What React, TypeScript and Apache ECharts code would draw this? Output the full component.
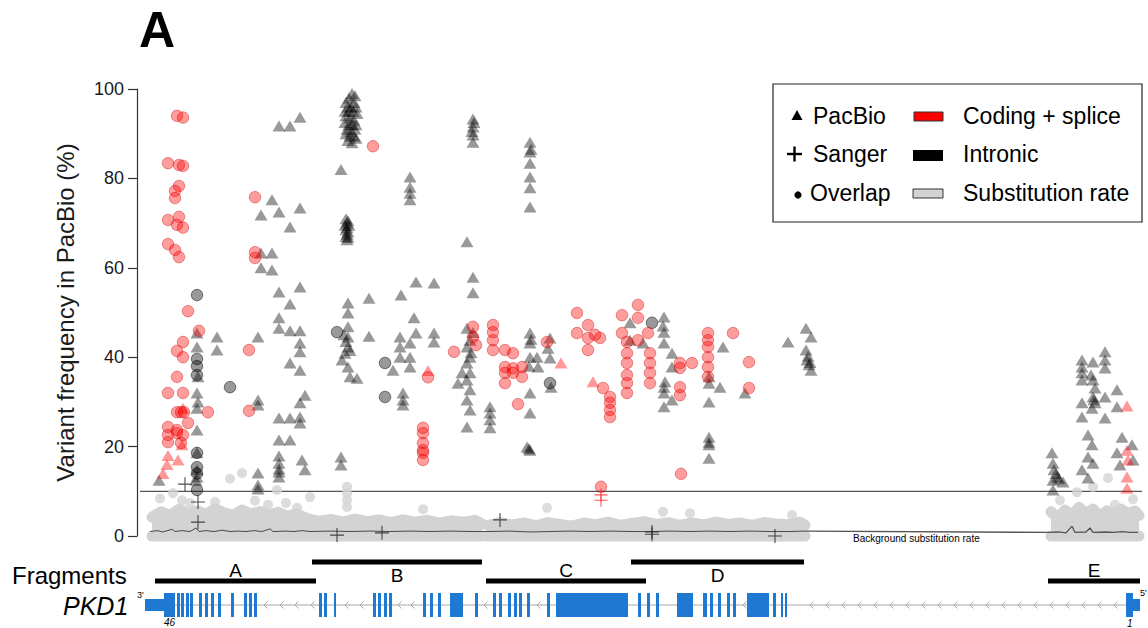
import React, { useEffect, useRef } from 'react';
import * as echarts from 'echarts';

const FONT = '"Liberation Sans", Arial, Helvetica, sans-serif';

// ---------- data (x = genomic position in plot units, y = variant frequency %) ----------
const redCircles: number[][] = [
  [177, 94], [183, 93.6], [168, 83.4], [179, 83], [183, 82.8], [179, 78.3], [175, 77.2], [175, 75.6],
  [168, 70.7], [179, 71.4], [177, 69.6], [183, 69], [168, 65.3], [175, 64], [179, 62.4], [188, 50.3],
  [199, 45.9], [183, 43.4], [177, 41.4], [183, 40], [177, 35.6], [168, 32], [183, 32], [177, 27.7],
  [181, 27.7], [184, 27.7], [208, 27.7], [188, 25.3], [168, 24.4], [177, 23.7], [168, 22.6], [177, 23],
  [183, 22.6], [168, 21], [181, 20.8], [249, 41.6], [249, 28], [255, 75.8], [255, 63.5], [255, 62.2],
  [373, 87.2], [428, 35.5], [423, 24.2], [423, 23], [423, 20.8], [423, 19.2], [423, 18.6], [423, 17],
  [454, 41.2], [473, 46.8], [473, 44.5], [476, 42.7],
  [493, 47.2], [493, 45.6], [493, 43.8], [493, 41.6], [505, 41.6], [513, 40.9], [505, 37.8], [513, 37.5],
  [522, 37.8], [505, 36.5], [513, 36.5], [522, 35.6], [505, 34.2], [518, 29.5], [547, 43.4],
  [577, 49.9], [577, 45.4], [588, 47.2], [588, 44.3], [588, 41.6], [595, 45], [600, 44.3], [603, 33.1],
  [610, 31.1], [610, 29.8], [610, 28.2], [610, 26.6], [601, 11], [622, 49.4], [622, 45.4], [627, 43.4],
  [627, 40.9], [627, 38.7], [627, 36], [627, 34.2], [627, 32], [638, 51.7], [638, 48.8], [648, 45.4],
  [638, 43.8], [650, 40.9], [650, 38.7], [650, 36.5], [650, 34.2],
  [680, 38.7], [680, 37.6], [680, 33.3], [680, 31.5], [692, 38.7], [681, 13.9], [708, 45.4], [708, 43.8],
  [708, 42.3], [708, 40], [708, 37.8], [708, 35.6], [733, 45.4], [749, 38.9], [749, 33.1],
];

const redTriangles: number[][] = [
  [163, 14], [167, 16], [168, 18], [178, 17], [182, 20.4], [183, 28.6], [428, 37], [561, 38.7], [593, 34.5],
  [1127, 29.1], [1127, 19.2], [1128, 17], [1127, 13.2], [1127, 10.7],
];

const grayTriangles: number[][] = [
  // fragment A
  [159, 12.5], [197, 45.4], [197, 42.3], [198, 35.6], [197, 32], [198, 30], [197, 28.6], [197, 23.7],
  [197, 18.6], [197, 14.8], [197, 13.2], [196, 12.5], [217, 44.5], [217, 41.6],
  [272, 75.2], [261, 71.8], [279, 72.5], [290, 69.1], [300, 73.4], [279, 91.7], [290, 91.7], [300, 93.7],
  [261, 63.3], [272, 63.3], [261, 60], [272, 59.5], [279, 54.6], [290, 51.9], [300, 55.7], [279, 48.8],
  [279, 46.5], [290, 45.9], [300, 45.9], [300, 43.2], [300, 41.2], [290, 38.7], [300, 37.1], [258, 44.5],
  [305, 31.5], [300, 29.8], [258, 30.4], [258, 29.3], [279, 26.4], [290, 26.4], [300, 26.6], [300, 25.3],
  [279, 21.5], [290, 21.5], [279, 17.9], [279, 16.3], [279, 15], [279, 14.3], [279, 13.2], [302, 17],
  [305, 14.8], [258, 14.1], [258, 11.4], [258, 10.5],
  // fragment B
  [346, 97], [349, 98], [352, 99], [355, 98.5], [354, 97], [348, 96], [351, 96], [356, 96], [345, 95],
  [349, 95], [353, 95], [357, 94.5], [346, 94], [350, 93.5], [354, 93], [345, 92.5], [349, 92], [352, 92],
  [356, 92], [347, 91], [351, 90.5], [355, 91], [346, 90], [350, 89.5], [354, 89.5], [348, 88.5], [352, 88],
  [356, 89], [341, 82],
  [346, 71], [348, 70.5], [347, 70], [345, 69.5], [349, 69.5], [347, 69], [346, 68.5], [348, 68],
  [347, 67.5], [346, 67], [348, 66.8], [347, 66.3],
  [410, 80.3], [410, 78], [410, 76.7], [410, 75.2],
  [473, 93.3], [473, 91.5], [473, 89.7], [473, 88.1], [474, 92.5], [472, 90.5],
  [467, 65.8], [473, 57.9], [473, 54.4], [416, 56.8], [434, 56.6], [401, 53.9], [369, 53.2],
  [348, 52.1], [348, 49.9], [348, 46.8], [348, 44.5], [348, 42.3], [345, 40.9], [342, 39.4], [348, 37.8],
  [350, 35.6], [357, 35.3], [346, 43.5], [350, 41.5], [344, 45],
  [369, 44.7], [414, 48.8], [416, 45.4], [400, 44.5], [400, 42.3], [400, 40], [410, 43.2], [410, 40],
  [410, 37.8], [393, 37.1], [403, 32], [403, 30.4], [403, 29.3], [434, 45.4], [434, 43.4],
  [341, 17.7], [341, 15.9],
  [467, 46.5], [470, 43.8], [467, 42.3], [470, 40], [467, 38.7], [470, 36.5], [467, 34.9], [470, 32.7],
  [467, 30.4], [470, 28.2], [467, 24.4], [462, 36.5], [458, 34.2], [473, 45.5], [471, 41],
  // fragment C
  [490, 28.9], [490, 27.5], [490, 26], [490, 24.2],
  [530, 88.1], [530, 85.9], [530, 83.4], [530, 80.3], [530, 77.9], [530, 73.6], [531, 86.5],
  [530, 45.4], [530, 43.2], [530, 40], [530, 32], [530, 27.5], [527, 19.9], [530, 19.2], [529, 19.5],
  [531, 44], [529, 38], [537, 40], [538, 37.8], [550, 44.3], [548, 42], [550, 39.8], [551, 33.3],
  [630, 47.7], [630, 43.8], [643, 43.2],
  [664, 49], [664, 45.6], [664, 43.2], [664, 33.3], [664, 32], [664, 28.9], [672, 40.9], [672, 37.8],
  [672, 30.4], [663, 47], [665, 34.5],
  // fragment D
  [709, 35.6], [709, 34.2], [709, 30], [709, 22.1], [709, 20.4], [709, 17.4], [709, 21], [720, 33.3],
  [723, 42.3], [745, 32], [788, 43.4], [806, 46.5], [811, 44.5], [806, 41.6], [807, 39.4], [809, 38.3],
  [811, 37.1], [808, 40.2], [810, 38.8],
  // fragment E
  [1052, 18.6], [1053, 16.3], [1054, 14.8], [1057, 13.2], [1053, 12.5], [1063, 12.1], [1053, 10.3],
  [1056, 14], [1059, 12.8],
  [1082, 39.4], [1082, 37.8], [1082, 36.5], [1082, 34.9], [1093, 38.9], [1105, 41.2], [1105, 39.4],
  [1105, 37.6], [1093, 34.9], [1095, 33.1], [1093, 31.1], [1095, 29.8], [1092, 28.6], [1082, 29.8],
  [1082, 26.6], [1105, 31.1], [1117, 32.7], [1117, 28.9], [1105, 26.4], [1088, 22.6], [1092, 20.4],
  [1088, 17.7], [1093, 16.3], [1082, 14.8], [1088, 13], [1122, 22.1], [1132, 20.4], [1117, 18.6],
  [1120, 15.9], [1133, 17], [1094, 30.5], [1091, 36],
];

const darkCircles: number[][] = [
  [197, 53.9], [197, 39.6], [197, 38], [197, 36], [197, 18.6], [197, 15.4], [197, 14], [197, 10.3],
  [230, 33.3], [337, 45.6], [385, 38.7], [385, 31.1], [550, 34.2], [652, 47.7],
];

const sangerIntronic: number[][] = [
  [185, 11.6], [198, 7.6], [198, 3.1], [337, 0.2], [382, 0.7], [500, 3.6], [652, 0.9], [652, 0.4], [775, 0],
];

const sangerCoding: number[][] = [[601, 9.2], [601, 8]];

const substitutionOutliers: number[][] = [
  [173, 9.6], [182, 8], [160, 8.4], [190, 7.4], [215, 7.6], [230, 12.8], [242, 14.1], [255, 7.9],
  [268, 7.0], [277, 10.3], [286, 7.4], [297, 6.3], [310, 8.7], [347, 11], [347, 9.5], [347, 8],
  [347, 6.5], [423, 6], [547, 6.3], [663, 5.4], [690, 5.1], [792, 4.7],
  [1077, 9.8], [1093, 11], [1108, 13], [1060, 8], [1115, 7], [1133, 8.2],
];

// substitution-rate band, upper envelope per segment
const bandAB: number[][] = [
  [152, 4.2], [161, 5.4], [170, 4.6], [179, 6.0], [188, 5.0], [197, 5.6], [206, 4.8], [215, 6.1],
  [224, 5.2], [233, 4.6], [242, 5.8], [251, 4.9], [260, 5.5], [269, 4.6], [278, 5.3], [287, 4.4],
  [296, 5.0], [307, 3.9], [319, 3.3], [331, 3.7], [343, 3.1], [355, 3.8], [367, 3.2], [379, 3.6],
  [391, 3.0], [403, 3.6], [415, 3.1], [427, 3.5], [439, 2.9], [451, 3.4], [463, 3.1], [475, 3.5], [482, 2.7],
];
const bandCD: number[][] = [
  [488, 2.4], [500, 3.0], [512, 2.5], [524, 2.9], [536, 2.3], [548, 3.0], [560, 2.6], [572, 2.2],
  [584, 2.9], [596, 2.5], [608, 3.1], [620, 2.4], [632, 2.8], [644, 3.2], [656, 2.6], [668, 3.0],
  [680, 2.4], [692, 2.9], [704, 2.5], [716, 3.1], [728, 2.6], [740, 2.9], [752, 2.4], [764, 3.0],
  [776, 2.7], [788, 2.5], [800, 3.1], [805, 2.4],
];
const bandE: number[][] = [
  [1051, 5.4], [1058, 4.0], [1065, 5.8], [1072, 4.6], [1079, 6.4], [1086, 5.0], [1093, 6.0],
  [1100, 4.4], [1107, 5.6], [1114, 4.6], [1121, 6.0], [1128, 5.0], [1135, 5.6], [1139, 4.6],
];

const backgroundRate: number[][] = [
  [150, 1.0], [158, 1.2], [162, 0.9], [166, 1.1], [172, 1.5], [175, 1.0], [182, 1.2], [190, 1.0],
  [196, 1.8], [199, 1.0], [206, 1.2], [214, 1.0], [222, 1.3], [230, 1.0], [238, 1.1], [246, 1.0],
  [254, 1.2], [262, 1.0], [270, 1.6], [273, 1.0], [286, 1.1], [294, 1.0], [302, 1.2], [310, 1.0],
  [330, 1.1], [350, 1.0], [370, 1.1], [390, 1.0], [410, 1.1], [430, 1.0], [450, 1.1], [470, 1.0],
  [490, 1.0], [510, 1.1], [530, 0.9], [550, 1.0], [570, 1.1], [590, 1.0], [610, 1.1], [630, 1.0],
  [650, 1.0], [670, 1.1], [690, 1.0], [710, 1.1], [730, 1.0], [750, 1.1], [770, 1.0], [790, 1.0],
  [805, 1.1], [1050, 0.8], [1058, 0.9], [1066, 0.7], [1072, 2.2], [1075, 0.8], [1086, 0.9],
  [1090, 1.8], [1093, 0.8], [1106, 0.9], [1114, 0.8], [1122, 1.0], [1130, 0.8], [1138, 0.8],
];
const bgSplit = 48; // index of the point at the end of fragment D

const thresholdLine: number[][] = [[140, 10], [1142, 10]];

// fragments and gene model (same genomic axis)
const fragmentNames = ['A', 'B', 'C', 'D', 'E'];
const fragmentStart = [155, 312, 486, 631, 1048];
const fragmentEnd = [316, 482, 646, 804, 1140];
const fragmentTier = [0, 1, 0, 1, 0]; // 1 = upper row

const geneSpan = [145, 1140];
const codingExons: number[][] = [
  [164, 175], [177, 180], [181, 184], [186, 189], [190, 193], [199, 202], [205, 208], [211, 214],
  [218, 221], [231, 234], [244, 247], [249, 252], [254, 257], [319, 322], [324, 327], [334, 336],
  [373, 376], [378, 381], [384, 387], [389, 392], [423, 426], [430, 433], [438, 441], [450, 463],
  [475, 478], [493, 496], [499, 502], [508, 511], [514, 517], [519, 522], [527, 530], [547, 550],
  [556, 628], [638, 641], [647, 650], [656, 659], [677, 693], [703, 707], [710, 713], [718, 721],
  [727, 730], [733, 736], [747, 769], [773, 776], [781, 783], [785, 787], [1126, 1133],
];
const utrRegions: number[][] = [[145, 164], [1133, 1140]];
const intronArrows = [
  264, 280, 295, 311, 345, 360, 398, 411, 484, 537, 743, 810, 826, 842, 858, 874, 890, 906, 922, 938,
  954, 970, 986, 1002, 1018, 1034, 1050, 1066, 1082, 1098, 1114,
];

const yMin = 0;
const yMax = 100;
const yStep = 20;

// ---------- chart ----------
const CROSS = 'path://M9.2,0h1.6v9.2h9.2v1.6h-9.2v9.2h-1.6v-9.2h-9.2v-1.6h9.2z';
const BAND = '#d3d3d3';

function bandSeries(seg: number[][]) {
  return [
    {
      type: 'line', xAxisIndex: 0, yAxisIndex: 0, data: seg, symbol: 'none', silent: true, clip: false, z: 1,
      lineStyle: { color: BAND, width: 11, cap: 'round', join: 'round' },
      areaStyle: { color: BAND, opacity: 1 },
    },
    {
      type: 'line', xAxisIndex: 0, yAxisIndex: 0, data: [[seg[0][0], 0], [seg[seg.length - 1][0], 0]],
      symbol: 'none', silent: true, clip: false, z: 1,
      lineStyle: { color: BAND, width: 11, cap: 'round' },
    },
  ];
}

function buildOption() {
  const TRACK = { upperBar: 14, lowerBar: 33, upperLabel: 27.5, lowerLabel: 22, gene: 57 };
  const text = (x: number, y: number, t: string, size: number, extra: any = {}) => ({
    type: 'text', x, y, z: 50,
    style: { text: t, fontSize: size, fontFamily: FONT, fill: '#000', verticalAlign: 'middle', ...extra },
  });

  return {
    animation: false,
    backgroundColor: '#fff',
    grid: [
      { left: 137, top: 89, width: 1011, height: 447 },
      { left: 137, top: 548, width: 1011, height: 80 },
    ],
    xAxis: [
      { type: 'value', gridIndex: 0, min: 137, max: 1148, show: false },
      { type: 'value', gridIndex: 1, min: 137, max: 1148, show: false },
    ],
    yAxis: [
      {
        type: 'value', gridIndex: 0, min: yMin, max: yMax, interval: yStep,
        name: 'Variant frequency in PacBio (%)', nameLocation: 'middle', nameGap: 60,
        nameTextStyle: { fontSize: 24, fontFamily: FONT, color: '#1a1a1a' },
        axisLine: { show: true, lineStyle: { color: '#333', width: 1.2 } },
        axisTick: { show: true, length: 9, lineStyle: { color: '#333', width: 1.2 } },
        axisLabel: { fontSize: 18, fontFamily: FONT, color: '#1a1a1a', margin: 13 },
        splitLine: { show: false },
      },
      { type: 'value', gridIndex: 1, min: 0, max: 80, inverse: true, show: false },
    ],
    graphic: [
      text(139, 30, 'A', 50, { fontWeight: 'bold' }),
      text(12, 575, 'Fragments', 24),
      text(63, 606, 'PKD1', 25, { fontStyle: 'italic' }),
      text(137, 595, "3'", 9),
      text(164, 622, '46', 10, { fontStyle: 'italic' }),
      text(1140, 593, "5'", 9),
      text(1127, 623, '1', 10, { fontStyle: 'italic' }),
      text(853, 538, 'Background substitution rate', 10),
      // legend
      { type: 'rect', z: 40, shape: { x: 773, y: 84, width: 369, height: 138 }, style: { fill: '#fff', stroke: '#222', lineWidth: 1.2 } },
      { type: 'polygon', z: 50, shape: { points: [[797, 110], [791.5, 120], [802.5, 120]] }, style: { fill: '#000' } },
      text(813, 116, 'PacBio', 23),
      { type: 'rect', z: 50, shape: { x: 914, y: 112, width: 29, height: 9 }, style: { fill: '#ff0000', stroke: '#333', lineWidth: 1 } },
      text(963, 116, 'Coding + splice', 23),
      { type: 'line', z: 50, shape: { x1: 787, y1: 154, x2: 802, y2: 154 }, style: { stroke: '#000', lineWidth: 2.4 } },
      { type: 'line', z: 50, shape: { x1: 794.5, y1: 146.5, x2: 794.5, y2: 161.5 }, style: { stroke: '#000', lineWidth: 2.4 } },
      text(813, 154, 'Sanger', 23),
      { type: 'rect', z: 50, shape: { x: 913, y: 150, width: 30, height: 11 }, style: { fill: '#000' } },
      text(963, 154, 'Intronic', 23),
      { type: 'circle', z: 50, shape: { cx: 798, cy: 195, r: 3.6 }, style: { fill: '#000' } },
      text(810, 193, 'Overlap', 23),
      { type: 'rect', z: 50, shape: { x: 913, y: 189, width: 30, height: 9 }, style: { fill: BAND, stroke: '#333', lineWidth: 1 } },
      text(963, 193, 'Substitution rate', 23),
    ],
    series: [
      ...bandSeries(bandAB),
      ...bandSeries(bandCD),
      ...bandSeries(bandE),
      {
        type: 'line', data: backgroundRate.slice(0, bgSplit + 1), symbol: 'none', silent: true, z: 2,
        lineStyle: { color: '#3a3a3a', width: 0.9 },
      },
      {
        type: 'line', data: backgroundRate.slice(bgSplit), symbol: 'none', silent: true, z: 2,
        lineStyle: { color: '#555', width: 1.3 },
      },
      {
        type: 'line', data: thresholdLine, symbol: 'none', silent: true, z: 3,
        lineStyle: { color: '#555', width: 1.3 },
      },
      {
        name: 'Substitution rate', type: 'scatter', data: substitutionOutliers, symbol: 'circle', symbolSize: 10, z: 4,
        itemStyle: { color: BAND },
      },
      {
        name: 'Intronic PacBio', type: 'scatter', data: grayTriangles, symbol: 'triangle', symbolSize: [13, 11], z: 5,
        itemStyle: { color: 'rgba(0,0,0,0.5)' },
      },
      {
        name: 'Coding PacBio', type: 'scatter', data: redTriangles, symbol: 'triangle', symbolSize: [13, 11], z: 5,
        itemStyle: { color: 'rgba(255,0,0,0.5)' },
      },
      {
        name: 'Intronic overlap', type: 'scatter', data: darkCircles, symbol: 'circle', symbolSize: 11.5, z: 6,
        itemStyle: { color: 'rgba(0,0,0,0.5)', borderColor: 'rgba(0,0,0,0.6)', borderWidth: 1 },
      },
      {
        name: 'Coding overlap', type: 'scatter', data: redCircles, symbol: 'circle', symbolSize: 11.5, z: 6,
        itemStyle: { color: 'rgba(255,0,0,0.48)', borderColor: 'rgba(200,0,0,0.5)', borderWidth: 1 },
      },
      {
        name: 'Intronic Sanger', type: 'scatter', data: sangerIntronic, symbol: CROSS, symbolSize: 14, z: 7,
        itemStyle: { color: '#222' },
      },
      {
        name: 'Coding Sanger', type: 'scatter', data: sangerCoding, symbol: CROSS, symbolSize: 13, z: 7,
        itemStyle: { color: '#ff2a2a' },
      },
      // fragments
      {
        type: 'custom', xAxisIndex: 1, yAxisIndex: 1, silent: true,
        data: fragmentNames.map((_, i) => [fragmentStart[i], fragmentEnd[i], fragmentTier[i]]),
        renderItem: (params: any, api: any) => {
          const tier = api.value(2);
          const barRow = tier === 1 ? TRACK.upperBar : TRACK.lowerBar;
          const labelRow = tier === 1 ? TRACK.upperLabel : TRACK.lowerLabel;
          const p0 = api.coord([api.value(0), barRow]);
          const p1 = api.coord([api.value(1), barRow]);
          const pl = api.coord([(api.value(0) + api.value(1)) / 2, labelRow]);
          return {
            type: 'group',
            children: [
              { type: 'rect', shape: { x: p0[0], y: p0[1] - 2.5, width: p1[0] - p0[0], height: 5 }, style: { fill: '#000' } },
              {
                type: 'text', x: pl[0], y: pl[1],
                style: { text: fragmentNames[params.dataIndex], fontSize: 19, fontFamily: FONT, fill: '#000', align: 'center', verticalAlign: 'middle' },
              },
            ],
          };
        },
      },
      // gene backbone
      {
        type: 'custom', xAxisIndex: 1, yAxisIndex: 1, silent: true, data: [geneSpan],
        renderItem: (_p: any, api: any) => {
          const a = api.coord([api.value(0), TRACK.gene]);
          const b = api.coord([api.value(1), TRACK.gene]);
          return { type: 'line', shape: { x1: a[0], y1: a[1], x2: b[0], y2: b[1] }, style: { stroke: '#a8a8a8', lineWidth: 1 } };
        },
      },
      // intron direction arrows
      {
        type: 'custom', xAxisIndex: 1, yAxisIndex: 1, silent: true, data: intronArrows.map((x) => [x]),
        renderItem: (_p: any, api: any) => {
          const c = api.coord([api.value(0), TRACK.gene]);
          return {
            type: 'polyline',
            shape: { points: [[c[0] + 3.5, c[1] - 3.5], [c[0], c[1]], [c[0] + 3.5, c[1] + 3.5]] },
            style: { stroke: '#aaa', lineWidth: 1, fill: 'none' },
          };
        },
      },
      // exons
      {
        type: 'custom', xAxisIndex: 1, yAxisIndex: 1, silent: true,
        data: [...codingExons.map((e) => [e[0], e[1], 0]), ...utrRegions.map((e) => [e[0], e[1], 1])],
        renderItem: (_p: any, api: any) => {
          const a = api.coord([api.value(0), TRACK.gene]);
          const b = api.coord([api.value(1), TRACK.gene]);
          const h = api.value(2) === 1 ? 12 : 24;
          return {
            type: 'rect',
            shape: { x: a[0], y: a[1] - h / 2, width: Math.max(b[0] - a[0], 1.5), height: h },
            style: { fill: '#1f78d1' },
          };
        },
      },
    ],
  };
}

export default function App() {
  const ref = useRef<HTMLDivElement>(null);
  useEffect(() => {
    if (!ref.current) return;
    const chart = echarts.init(ref.current, null, { renderer: 'svg' });
    chart.setOption(buildOption() as any);
    return () => chart.dispose();
  }, []);
  return (
    <div
      ref={ref}
      style={{ position: 'fixed', left: 0, top: 0, width: 1148, height: 628, background: '#fff' }}
    />
  );
}
